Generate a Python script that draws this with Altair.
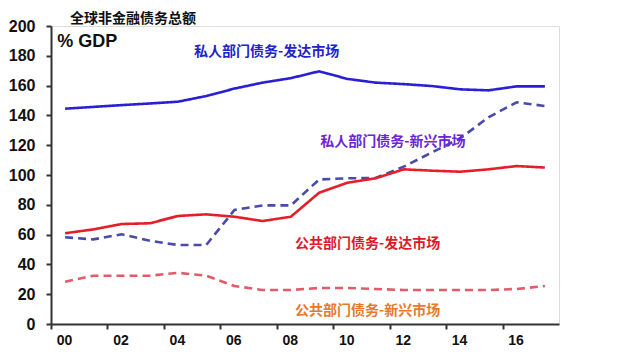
import altair as alt
import pandas as pd

years = list(range(2000, 2018))
private_dm = [144.5, 145.7, 146.9, 148.0, 149.2, 153.0, 158.0, 162.0, 165.0, 169.6, 164.5, 162.0, 161.0, 159.7, 157.5, 156.8, 159.5, 159.5]
private_em = [58.2, 56.8, 60.2, 55.9, 53.0, 53.0, 76.5, 79.6, 79.6, 97.0, 97.8, 98.0, 105.6, 115.2, 124.6, 138.7, 148.8, 146.3]
public_dm = [60.9, 63.5, 67.1, 67.6, 72.5, 73.6, 72.0, 69.1, 72.0, 88.1, 94.8, 97.8, 103.8, 102.9, 102.2, 103.8, 106.0, 105.0]
public_em = [28.4, 32.4, 32.4, 32.4, 34.4, 32.4, 25.5, 22.8, 22.8, 24.2, 24.2, 23.5, 22.8, 22.8, 22.8, 22.8, 23.5, 25.5]

series_names = ["私人部门债务-发达市场", "私人部门债务-新兴市场", "公共部门债务-发达市场", "公共部门债务-新兴市场"]
line_colors = ["#2a1fd4", "#4a4aa8", "#e3202a", "#e35a68"]
label_colors = ["#2222cc", "#6a26d6", "#e01828", "#e8782c"]
dashes = [[1, 0], [8, 5], [1, 0], [8, 5]]

x_ticks = list(range(0, 17, 2))
y_ticks = list(range(0, 201, 20))

# annotation anchor points in data units (year offset, % GDP)
label_x = [5.07, 9.54, 8.65, 8.65]
label_y = [182.5, 122.0, 53.7, 8.7]

title_text = "全球非金融债务总额"
unit_text = "% GDP"

rows = []
for name, vals in zip(series_names, [private_dm, private_em, public_dm, public_em]):
    for yr, v in zip(years, vals):
        rows.append({"series": name, "t": (yr - 2000) + 0.5, "value": v})
df = pd.DataFrame(rows)

lab_df = pd.DataFrame({"series": series_names, "t": label_x, "value": label_y})

x_scale = alt.Scale(domain=[0, 18], nice=False, zero=False)
y_scale = alt.Scale(domain=[0, 200], nice=False)

x_axis = alt.Axis(values=x_ticks, title=None, grid=False,
                  labelExpr="datum.value < 10 ? '0' + datum.value : '' + datum.value",
                  labelOffset=13, labelFontSize=14, labelFontWeight="bold",
                  labelColor="#111", labelFont="Liberation Sans", labelPadding=4,
                  labelOverlap=False, labelFlush=False,
                  tickSize=5, tickColor="#333", tickWidth=2,
                  domainColor="#333", domainWidth=2)
y_axis = alt.Axis(values=y_ticks, title=None, grid=False,
                  labelFontSize=16, labelFontWeight="bold", labelColor="#111",
                  labelFont="Liberation Sans", labelPadding=11,
                  labelOverlap=False, labelFlush=False,
                  tickSize=5, tickColor="#333", tickWidth=2,
                  domainColor="#333", domainWidth=2)

X = alt.X("t:Q", scale=x_scale, axis=x_axis)
Y = alt.Y("value:Q", scale=y_scale, axis=y_axis)

lines = alt.Chart(df).mark_line(strokeWidth=2.6).encode(
    x=X, y=Y,
    color=alt.Color("series:N", scale=alt.Scale(domain=series_names, range=line_colors), legend=None),
    strokeDash=alt.StrokeDash("series:N", scale=alt.Scale(domain=series_names, range=dashes), legend=None),
)

labels = alt.Chart(lab_df).mark_text(
    align="left", baseline="middle", fontSize=14, fontWeight="bold", font="Noto Sans CJK SC"
).encode(
    x=X, y=Y,
    text="series:N",
    color=alt.Color("series:N", scale=alt.Scale(domain=series_names, range=label_colors), legend=None),
)

unit = alt.Chart(pd.DataFrame({"t": [0.22], "value": [189.5], "txt": [unit_text]})).mark_text(
    align="left", baseline="middle", fontSize=18, fontWeight="bold", font="Liberation Sans", color="#111"
).encode(x=X, y=Y, text="txt:N")

title = alt.Chart(pd.DataFrame({"txt": [title_text]})).mark_text(
    align="left", baseline="middle", fontSize=14, fontWeight="bold", font="Noto Sans CJK SC", color="#111"
).encode(x=alt.value(19), y=alt.value(-7), text="txt:N")

chart = alt.layer(lines, labels, unit, title).resolve_scale(color="independent").properties(
    width=508, height=298,
    autosize=alt.AutoSizeParams(type="none"),
    padding={"left": 43, "top": 18, "right": 60, "bottom": 24},
).configure_view(stroke="#333", strokeWidth=2).configure(background="white")

chart.save("out.html", embed_options={"renderer": "svg", "actions": False})
